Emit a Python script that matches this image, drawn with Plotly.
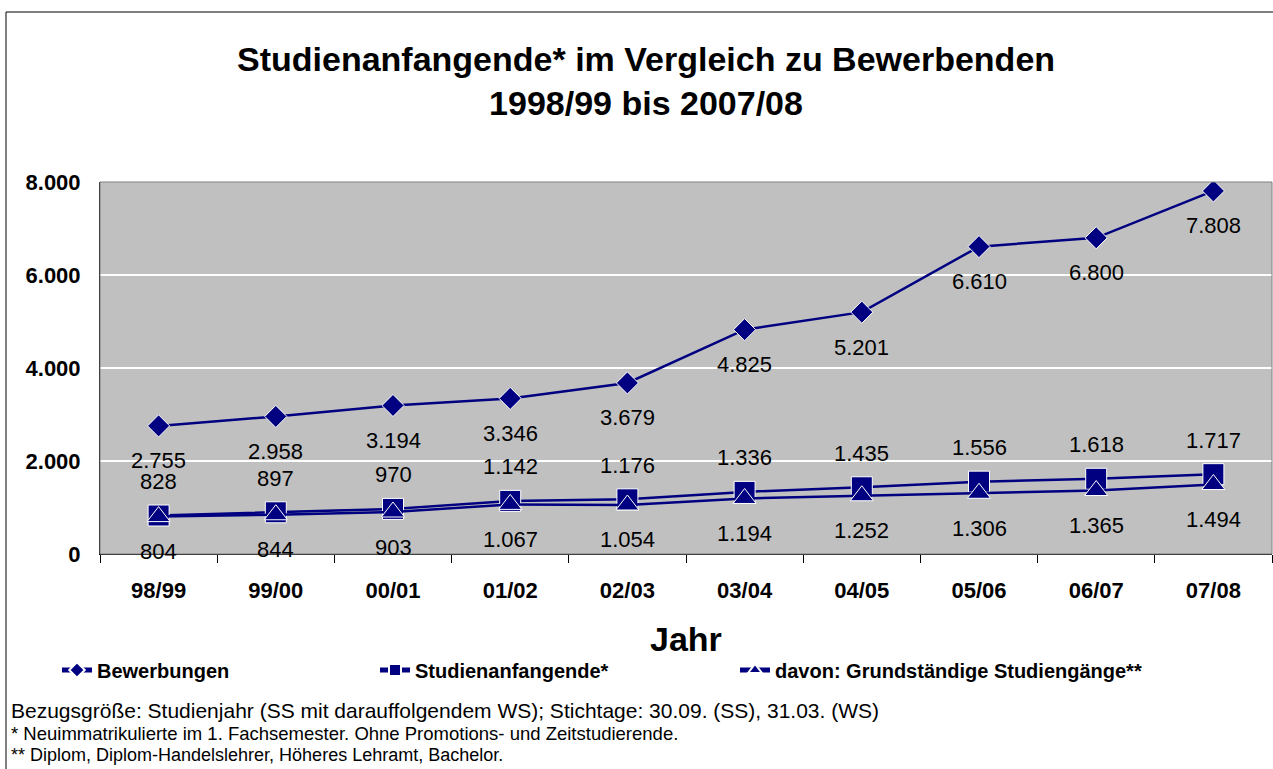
import plotly.graph_objects as go

years = ["98/99", "99/00", "00/01", "01/02", "02/03", "03/04", "04/05", "05/06", "06/07", "07/08"]
bewerbungen = [2755, 2958, 3194, 3346, 3679, 4825, 5201, 6610, 6800, 7808]
studienanfangende = [828, 897, 970, 1142, 1176, 1336, 1435, 1556, 1618, 1717]
grundstaendige = [804, 844, 903, 1067, 1054, 1194, 1252, 1306, 1365, 1494]

series_names = ["Bewerbungen", "Studienanfangende*", "davon: Grundständige Studiengänge**"]

NAVY = "#000080"
FONT = "Liberation Sans, Arial, sans-serif"

# plot area in pixels
W, H = 1273, 769
L, R, T, B = 100, 1272, 182, 554


def px_x(p):
    return (p - L) / (R - L)


def px_y(p):
    return (B - p) / (B - T)


def de(v):
    return f"{v:,}".replace(",", ".")


fig = go.Figure()

specs = [
    (bewerbungen, "diamond", 17, "legend", -35),
    (studienanfangende, "square", 21, "legend2", 34),
    (grundstaendige, "triangle-up", 20, "legend3", -35),
]

for name, (vals, sym, size, leg, shift) in zip(series_names, specs):
    fig.add_trace(go.Scatter(
        x=years, y=vals, name=name, mode="lines+markers",
        line=dict(color=NAVY, width=2.5),
        marker=dict(symbol=sym, size=size, color=NAVY, line=dict(color="white", width=1)),
        legend=leg,
    ))
    for xv, yv in zip(years, vals):
        fig.add_annotation(x=xv, y=yv, xref="x", yref="y", text=de(yv), showarrow=False,
                           yshift=shift, font=dict(family=FONT, size=22, color="black"))

# Title
fig.add_annotation(xref="paper", yref="paper", x=px_x(646), y=px_y(81.5),
                   text="<b>Studienanfangende* im Vergleich zu Bewerbenden<br>1998/99 bis 2007/08</b>",
                   showarrow=False, xanchor="center", yanchor="middle",
                   font=dict(family=FONT, size=34, color="black"))

# x axis title
fig.add_annotation(xref="paper", yref="paper", x=0.5, y=px_y(639),
                   text="<b>Jahr</b>", showarrow=False, xanchor="center", yanchor="middle",
                   font=dict(family=FONT, size=34, color="black"))

# Footnotes
foot = [
    ("Bezugsgröße: Studienjahr (SS mit darauffolgendem WS); Stichtage: 30.09. (SS), 31.03. (WS)", 710, 21),
    ("* Neuimmatrikulierte im 1. Fachsemester. Ohne Promotions- und Zeitstudierende.", 733, 18.5),
    ("** Diplom, Diplom-Handelslehrer, Höheres Lehramt, Bachelor.", 755, 18),
]
for txt, yy, fs in foot:
    fig.add_annotation(xref="paper", yref="paper", x=px_x(9), y=px_y(yy), text=txt,
                       showarrow=False, xanchor="left", yanchor="middle",
                       font=dict(family=FONT, size=fs, color="black"))

# outer frame and plot border
fig.add_shape(type="rect", xref="paper", yref="paper", x0=px_x(6), x1=px_x(1300),
              y0=px_y(800), y1=px_y(12), line=dict(color="black", width=1), layer="below")
fig.add_shape(type="rect", xref="paper", yref="paper", x0=0, x1=1, y0=0, y1=1,
              line=dict(color="#808080", width=1))

leg_common = dict(orientation="h", yanchor="middle", xanchor="left", bgcolor="rgba(0,0,0,0)",
                  font=dict(family=FONT, size=20, color="black", weight="bold"),
                  itemsizing="constant")

fig.update_layout(
    width=W, height=H,
    margin=dict(l=L, r=W - R, t=T, b=H - B),
    paper_bgcolor="white", plot_bgcolor="#C0C0C0",
    separators=",.",
    showlegend=True,
    legend=dict(x=px_x(57), y=px_y(670), **leg_common),
    legend2=dict(x=px_x(375), y=px_y(670), **leg_common),
    legend3=dict(x=px_x(735), y=px_y(670), **leg_common),
    xaxis=dict(type="category", range=[-0.5, 9.5], showgrid=False, showline=True,
               linecolor="black", linewidth=1, ticks="outside", tickson="boundaries",
               ticklen=8, tickcolor="black", ticklabelstandoff=17,
               tickfont=dict(family=FONT, size=22, color="black", weight="bold")),
    yaxis=dict(range=[0, 8000], dtick=2000, tickformat=",d", showgrid=True,
               gridcolor="white", gridwidth=2, showline=True, linecolor="black",
               linewidth=1, zeroline=False, ticks="", ticklabelstandoff=14,
               tickfont=dict(family=FONT, size=22, color="black", weight="bold")),
)

fig.write_html("out.html", config={"displayModeBar": False},
               post_script="document.body.style.margin='0';document.body.style.overflow='hidden';")
